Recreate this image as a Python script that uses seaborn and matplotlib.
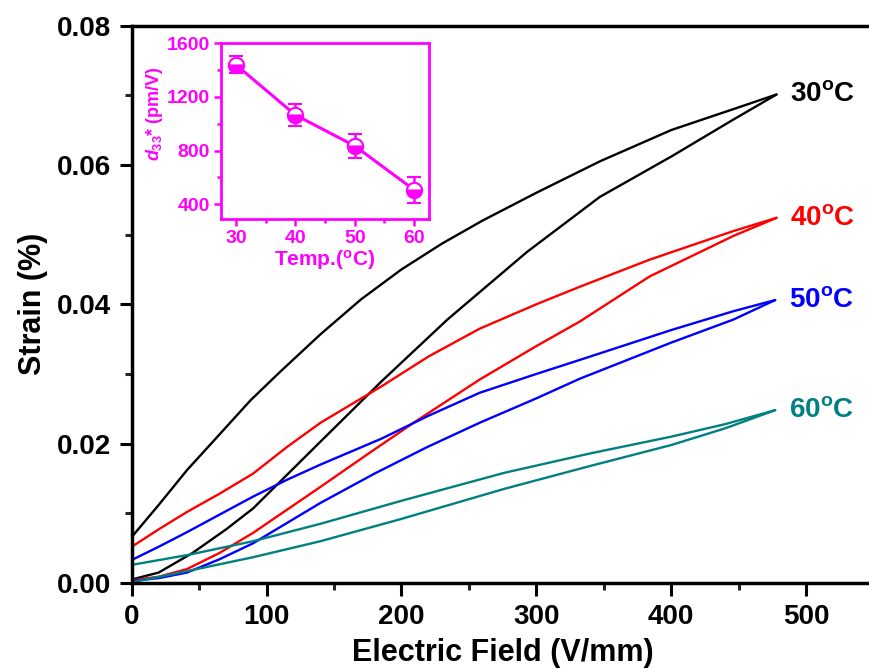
import numpy as np
import pandas as pd
import matplotlib
matplotlib.use("Agg")
import matplotlib.pyplot as plt
import seaborn as sns

sns.set_theme(style="white")
plt.rcParams['font.family'] = ['Liberation Sans', 'DejaVu Sans']
plt.rcParams['font.weight'] = 'bold'
plt.rcParams['text.color'] = 'black'
plt.rcParams['axes.labelcolor'] = 'black'
plt.rcParams['mathtext.fontset'] = 'custom'
plt.rcParams['mathtext.rm'] = 'Liberation Sans:bold'
plt.rcParams['mathtext.it'] = 'Liberation Sans:italic:bold'
plt.rcParams['mathtext.bf'] = 'Liberation Sans:bold'

# ---------------- data ----------------
temps = ["30", "40", "50", "60"]
colors = ["#000000", "#FF0000", "#0000FF", "#008080"]

# rising-field branch (lower) and falling-field branch (upper), E in V/mm, strain in %
e_up_30 = [0, 20, 45, 70, 90, 115, 140, 185, 234, 293, 347, 400, 446, 478]
s_up_30 = [0.0005, 0.0015, 0.0043, 0.0077, 0.0107, 0.0155, 0.0203, 0.0289, 0.0378, 0.0475,
           0.0554, 0.0612, 0.0665, 0.0701]
e_dn_30 = [0, 20, 41, 65, 88, 110, 140, 170, 200, 230, 260, 300, 347, 400, 446, 478]
s_dn_30 = [0.0066, 0.0112, 0.0162, 0.0213, 0.0262, 0.0303, 0.0357, 0.0407, 0.0450, 0.0487,
           0.0520, 0.0560, 0.0605, 0.0650, 0.0680, 0.0701]

e_up_40 = [0, 20, 41, 65, 90, 115, 140, 175, 209, 258, 300, 332, 384, 446, 478]
s_up_40 = [0.0004, 0.0009, 0.0020, 0.0043, 0.0072, 0.0105, 0.0138, 0.0185, 0.0230, 0.0292,
           0.0340, 0.0375, 0.0440, 0.0498, 0.0524]
e_dn_40 = [0, 20, 41, 65, 90, 115, 140, 185, 220, 258, 300, 332, 384, 446, 478]
s_dn_40 = [0.0052, 0.0077, 0.0102, 0.0128, 0.0157, 0.0195, 0.0230, 0.0282, 0.0325, 0.0365,
           0.0400, 0.0425, 0.0464, 0.0505, 0.0524]

e_up_50 = [0, 20, 41, 65, 90, 115, 140, 180, 219, 258, 300, 332, 400, 446, 477]
s_up_50 = [0.0003, 0.0007, 0.0015, 0.0034, 0.0057, 0.0086, 0.0115, 0.0157, 0.0195, 0.0230,
           0.0265, 0.0293, 0.0345, 0.0378, 0.0406]
e_dn_50 = [0, 20, 41, 65, 90, 115, 140, 185, 220, 258, 300, 332, 400, 446, 477]
s_dn_50 = [0.0033, 0.0052, 0.0073, 0.0098, 0.0124, 0.0148, 0.0170, 0.0207, 0.0240, 0.0273,
           0.0300, 0.0320, 0.0363, 0.0390, 0.0406]

e_up_60 = [0, 41, 90, 140, 200, 276, 340, 400, 440, 477]
s_up_60 = [0.0001, 0.0017, 0.0037, 0.0060, 0.0092, 0.0135, 0.0168, 0.0198, 0.0222, 0.0248]
e_dn_60 = [0, 41, 90, 140, 200, 276, 340, 400, 440, 477]
s_dn_60 = [0.0026, 0.0040, 0.0060, 0.0085, 0.0118, 0.0158, 0.0186, 0.0210, 0.0228, 0.0248]

# inset: d33* vs temperature
inset_temp = [30, 40, 50, 60]
inset_d33 = [1440, 1066, 835, 507]
inset_err = [65, 85, 90, 95]

branches = {
    "30": (e_up_30, s_up_30, e_dn_30, s_dn_30),
    "40": (e_up_40, s_up_40, e_dn_40, s_dn_40),
    "50": (e_up_50, s_up_50, e_dn_50, s_dn_50),
    "60": (e_up_60, s_up_60, e_dn_60, s_dn_60),
}

# ---------------- figure ----------------
W, H = 870, 669
fig = plt.figure(figsize=(W / 100, H / 100), dpi=100)
ax = fig.add_axes([131.7 / W, (H - 583) / H, 550 * 1.349 / W, (583 - 25.5) / H])

for t, c in zip(temps, colors):
    eu, su, ed, sd = branches[t]
    sns.lineplot(x=eu, y=su, ax=ax, color=c, lw=1.7, sort=False, estimator=None)
    sns.lineplot(x=ed, y=sd, ax=ax, color=c, lw=1.7, sort=False, estimator=None)
    ax.text(eu[-1] + 10, su[-1], t + r"$^{\mathrm{o}}$C", color=c, fontsize=20,
            fontweight='bold', ha='left', va='center')

ax.set_xlim(0, 550)
ax.set_ylim(0, 0.08)
ax.set_xticks([0, 100, 200, 300, 400, 500])
ax.set_xticks(np.arange(50, 550, 100), minor=True)
ax.set_yticks([0, 0.02, 0.04, 0.06, 0.08])
ax.set_yticklabels(["0.00", "0.02", "0.04", "0.06", "0.08"])
ax.set_yticks([0.01, 0.03, 0.05, 0.07], minor=True)
ax.tick_params(axis='both', which='major', direction='out', length=9, width=2.2,
               labelsize=20, pad=6, colors='black', bottom=True, left=True)
ax.tick_params(axis='both', which='minor', direction='out', length=5, width=2.2,
               bottom=True, left=True)
for lab in ax.get_xticklabels() + ax.get_yticklabels():
    lab.set_fontweight('bold')
for side in ['left', 'bottom', 'top']:
    ax.spines[side].set_linewidth(2.5)
    ax.spines[side].set_color('black')
ax.spines['right'].set_visible(False)
ax.set_xlabel("Electric Field (V/mm)", fontsize=22, fontweight='bold', labelpad=6,
              color='black')
ax.set_ylabel("Strain (%)", fontsize=22, fontweight='bold', labelpad=6, color='black')
ax.grid(False)

# ---------------- inset ----------------
mag = "#FF00FF"
ins = fig.add_axes([221 / W, (H - 219) / H, (429 - 221) / W, (219 - 43.3) / H])
ins.errorbar(inset_temp, inset_d33, yerr=inset_err, color=mag, lw=2.2, capsize=5,
             capthick=1.8, elinewidth=1.8, marker='o', markersize=11,
             fillstyle='bottom', markerfacecolor=mag, markerfacecoloralt='white',
             markeredgecolor=mag, markeredgewidth=1.5)
ins.set_xlim(27.5, 62.5)
ins.set_ylim(290, 1600)
ins.set_xticks([30, 40, 50, 60])
ins.set_xticks([35, 45, 55], minor=True)
ins.set_yticks([400, 800, 1200, 1600])
ins.set_yticks([600, 1000, 1400], minor=True)
ins.tick_params(axis='both', which='major', direction='out', length=5, width=1.8,
                colors=mag, labelsize=14, pad=3, bottom=True, left=True)
ins.tick_params(axis='both', which='minor', direction='out', length=3, width=1.8,
                colors=mag, bottom=True, left=True)
for lab in ins.get_xticklabels() + ins.get_yticklabels():
    lab.set_fontweight('bold')
for sp in ins.spines.values():
    sp.set_color(mag)
    sp.set_linewidth(2)
ins.set_xlabel(r"Temp.($^{\mathrm{o}}$C)", color=mag, fontsize=15, fontweight='bold', labelpad=1)
ins.set_ylabel(r"$d_{33}$* (pm/V)", color=mag, fontsize=13, fontweight='bold')
ins.yaxis.set_label_coords(-0.27, 0.6)
ins.grid(False)
ins.set_facecolor('white')

fig.savefig("out.png", dpi=100)
